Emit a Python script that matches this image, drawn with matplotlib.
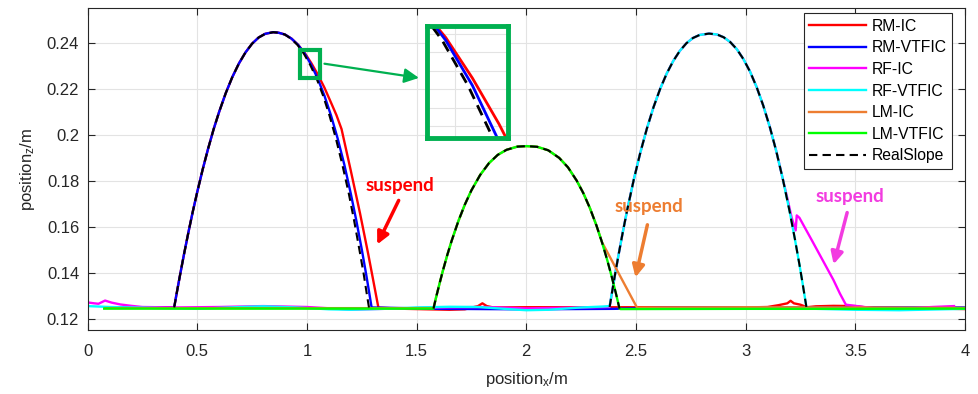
import matplotlib.pyplot as plt
from matplotlib.patches import Rectangle

plt.rcParams['font.family'] = ['Liberation Sans', 'DejaVu Sans']
plt.rcParams['mathtext.default'] = 'regular'

# ---- data (x, z in metres) ----
# arc 1 (right middle leg): shared rising branch
arc1_up_x = [0.395, 0.405, 0.42, 0.44, 0.46, 0.48, 0.50, 0.525, 0.55, 0.575, 0.60, 0.63, 0.66,
             0.69, 0.72, 0.75, 0.78, 0.81, 0.846]
arc1_up_z = [0.1250, 0.1304, 0.1382, 0.1482, 0.1577, 0.1667, 0.1751, 0.1850, 0.1941, 0.2025, 0.2100,
             0.2181, 0.2251, 0.2310, 0.2358, 0.2396, 0.2423, 0.2439, 0.2446]
# falling branch: RM-VTFIC and RealSlope share z, differ slightly in x
arc1_down_z = [0.2444, 0.2436, 0.2418, 0.2391, 0.2353, 0.2304, 0.2243, 0.2170, 0.2084, 0.1985,
               0.1873, 0.1745, 0.1629, 0.1503, 0.1395, 0.1309, 0.1250]
rm_vtfic_down_x = [0.87, 0.90, 0.93, 0.96, 0.99, 1.02, 1.05, 1.08, 1.11, 1.14,
                   1.17, 1.20, 1.225, 1.25, 1.27, 1.285, 1.295]
real1_down_x = [0.869, 0.899, 0.928, 0.957, 0.986, 1.015, 1.045, 1.074, 1.103, 1.132,
                1.161, 1.191, 1.215, 1.239, 1.259, 1.273, 1.283]
rm_ic_down_x = [0.87, 0.90, 0.93, 0.96, 0.99, 1.02, 1.05, 1.08, 1.11, 1.135, 1.158,
                1.20, 1.242, 1.28, 1.30, 1.326]
rm_ic_down_z = [0.2444, 0.2436, 0.2418, 0.2391, 0.2356, 0.2312, 0.2262, 0.2205, 0.2140, 0.2085, 0.2025,
                0.1845, 0.1660, 0.1480, 0.1380, 0.1249]

# arc 2 (left middle leg)
arc2_x = [1.577, 1.59, 1.605, 1.62, 1.64, 1.66, 1.69, 1.72, 1.75, 1.79, 1.83, 1.87, 1.91, 1.96, 2.003,
          2.05, 2.10, 2.15, 2.19, 2.23, 2.26, 2.29, 2.32, 2.345, 2.37, 2.39, 2.41, 2.425]
arc2_z = [0.1245, 0.1298, 0.1355, 0.1410, 0.1478, 0.1540, 0.1624, 0.1697, 0.1759, 0.1826, 0.1877, 0.1913,
          0.1935, 0.1949, 0.1951,
          0.1948, 0.1933, 0.1900, 0.1859, 0.1801, 0.1747, 0.1682, 0.1606, 0.1534, 0.1453, 0.1382, 0.1306, 0.1245]
lm_ic_tail_x = [2.39, 2.45, 2.505]
lm_ic_tail_z = [0.1454, 0.1347, 0.1249]

# arc 3 (right front leg)
arc3_x = [2.380, 2.39, 2.405, 2.42, 2.44, 2.46, 2.49, 2.52, 2.55, 2.58, 2.61, 2.64, 2.67, 2.70, 2.73,
          2.76, 2.79, 2.833,
          2.87, 2.90, 2.93, 2.96, 2.99, 3.02, 3.05, 3.08, 3.11, 3.14, 3.17, 3.20, 3.225, 3.245, 3.26, 3.277]
arc3_z = [0.1252, 0.1310, 0.1395, 0.1475, 0.1577, 0.1673, 0.1805, 0.1923, 0.2028, 0.2120, 0.2199, 0.2266,
          0.2321, 0.2365, 0.2398, 0.2421, 0.2434, 0.2440,
          0.2436, 0.2424, 0.2403, 0.2372, 0.2329, 0.2275, 0.2208, 0.2128, 0.2035, 0.1928, 0.1806, 0.1670,
          0.1545, 0.1438, 0.1353, 0.1252]
rf_ic_tail_x = [3.19, 3.21, 3.228, 3.233, 3.245, 3.30, 3.36, 3.40, 3.43, 3.457]
rf_ic_tail_z = [0.1725, 0.1640, 0.1585, 0.1650, 0.1640, 0.1545, 0.1440, 0.1370, 0.1310, 0.1262]

# stance (ground) segments
rm_pre_x = [0.08, 0.25, 0.395]
rm_pre_z = [0.1250, 0.1250, 0.1250]
rm_ic_post_x = [1.326, 1.45, 1.55, 1.65, 1.72, 1.78, 1.80, 1.82, 1.85, 2.0, 2.5, 3.0, 3.1, 3.15,
                3.19, 3.205, 3.22, 3.25, 3.28, 3.32, 3.4, 3.5, 3.55, 3.8, 4.0]
rm_ic_post_z = [0.1249, 0.1244, 0.1242, 0.1240, 0.1242, 0.1256, 0.1268, 0.1256, 0.1250, 0.1251, 0.1251,
                0.1250, 0.1252, 0.1260, 0.1268, 0.1279, 0.1268, 0.1262, 0.1251, 0.1255, 0.1257, 0.1256,
                0.1250, 0.1247, 0.1243]
rm_vtfic_post_x = [1.295, 1.4, 1.6, 1.8, 2.0, 2.2, 2.4, 2.6, 3.0, 3.5, 4.0]
rm_vtfic_post_z = [0.1250, 0.1248, 0.1244, 0.1243, 0.1242, 0.1243, 0.1244, 0.1248, 0.1250, 0.1250, 0.1250]

rf_ic_pre_x = [0.0, 0.03, 0.05, 0.08, 0.11, 0.15, 0.20, 0.25, 0.4, 0.6, 0.8, 1.0, 1.2, 1.4, 1.6, 1.8,
               2.0, 2.2, 2.38]
rf_ic_pre_z = [0.1272, 0.1268, 0.1266, 0.1280, 0.1271, 0.1263, 0.1257, 0.1252, 0.1250, 0.1252, 0.1256,
               0.1252, 0.1241, 0.1245, 0.1250, 0.1252, 0.1246, 0.1249, 0.1252]
rf_ic_post_x = [3.457, 3.6, 3.7, 3.85, 3.95]
rf_ic_post_z = [0.1254, 0.1245, 0.1243, 0.1252, 0.1256]

rf_vtfic_pre_x = [0.0, 0.1, 0.3, 0.5, 0.7, 0.8, 0.95, 1.1, 1.2, 1.35, 1.5, 1.65, 1.78, 1.9, 2.0, 2.1,
                  2.25, 2.35, 2.38]
rf_vtfic_pre_z = [0.1256, 0.1252, 0.1248, 0.1244, 0.1252, 0.1255, 0.1250, 0.1242, 0.1240, 0.1244, 0.1250,
                  0.1253, 0.1252, 0.1244, 0.1238, 0.1240, 0.1250, 0.1254, 0.1256]
rf_vtfic_post_x = [3.28, 3.5, 3.7, 3.9, 4.0]
rf_vtfic_post_z = [0.1245, 0.1240, 0.1238, 0.1242, 0.1244]

lm_ic_pre_x = [0.08, 0.8, 1.577]
lm_ic_pre_z = [0.1247, 0.1247, 0.1247]
lm_ic_post_x = [2.505, 3.0, 3.5, 4.0]
lm_ic_post_z = [0.1250, 0.1251, 0.1250, 0.1248]
lm_vtfic_pre_x = [0.076, 0.8, 1.577]
lm_vtfic_pre_z = [0.1245, 0.1245, 0.1245]
lm_vtfic_post_x = [2.43, 3.0, 3.5, 4.0]
lm_vtfic_post_z = [0.1243, 0.1244, 0.1244, 0.1245]

labels = ['RM-IC', 'RM-VTFIC', 'RF-IC', 'RF-VTFIC', 'LM-IC', 'LM-VTFIC', 'RealSlope']
colors = ['#ff0000', '#0000ff', '#ff00ff', '#00ffff', '#ed7d31', '#00ff00', 'black']

# ---- assemble series ----
rm_ic_x = rm_pre_x + arc1_up_x[1:] + rm_ic_down_x + rm_ic_post_x[1:]
rm_ic_z = rm_pre_z + arc1_up_z[1:] + rm_ic_down_z + rm_ic_post_z[1:]
rm_vt_x = rm_pre_x + arc1_up_x[1:] + rm_vtfic_down_x + rm_vtfic_post_x[1:]
rm_vt_z = rm_pre_z + arc1_up_z[1:] + arc1_down_z + rm_vtfic_post_z[1:]
i3 = arc3_x.index(3.17) + 1
rf_ic_x = rf_ic_pre_x + arc3_x[1:i3] + rf_ic_tail_x + rf_ic_post_x[1:]
rf_ic_z = rf_ic_pre_z + arc3_z[1:i3] + rf_ic_tail_z + rf_ic_post_z[1:]
rf_vt_x = rf_vtfic_pre_x + arc3_x[1:] + rf_vtfic_post_x
rf_vt_z = rf_vtfic_pre_z + arc3_z[1:] + rf_vtfic_post_z
i2 = arc2_x.index(2.345) + 1
lm_ic_x = lm_ic_pre_x + arc2_x[1:i2] + lm_ic_tail_x + lm_ic_post_x[1:]
lm_ic_z = lm_ic_pre_z + arc2_z[1:i2] + lm_ic_tail_z + lm_ic_post_z[1:]
lm_vt_x = lm_vtfic_pre_x + arc2_x[1:] + lm_vtfic_post_x
lm_vt_z = lm_vtfic_pre_z + arc2_z[1:] + lm_vtfic_post_z
real_arcs = [
    (arc1_up_x + real1_down_x, arc1_up_z + arc1_down_z),
    (arc2_x, arc2_z),
    (arc3_x, arc3_z),
]

series = [(rm_ic_x, rm_ic_z), (rm_vt_x, rm_vt_z), (rf_ic_x, rf_ic_z), (rf_vt_x, rf_vt_z),
          (lm_ic_x, lm_ic_z), (lm_vt_x, lm_vt_z)]

fig = plt.figure(figsize=(9.79, 3.94), dpi=100)
ax = fig.add_axes([0.0894, 0.1624, 0.8963, 0.8166])

for (xs, zs), lab, c in zip(series, labels[:6], colors[:6]):
    ax.plot(xs, zs, color=c, lw=1.7, label=lab)
for k, (xs, zs) in enumerate(real_arcs):
    ax.plot(xs, zs, color='black', lw=1.5, ls=(0, (4, 2.5)),
            label='RealSlope' if k == 0 else None)

ax.set_xlim(0, 4)
ax.set_ylim(0.1152, 0.255)
ax.set_xticks([0, 0.5, 1, 1.5, 2, 2.5, 3, 3.5, 4])
ax.set_xticklabels(['0', '0.5', '1', '1.5', '2', '2.5', '3', '3.5', '4'])
ax.set_yticks([0.12, 0.14, 0.16, 0.18, 0.2, 0.22, 0.24])
ax.set_yticklabels(['0.12', '0.14', '0.16', '0.18', '0.2', '0.22', '0.24'])
ax.tick_params(direction='in', top=True, right=True, length=5, width=0.8,
               labelsize=12, colors='#262626')
ax.tick_params(axis='x', pad=10)
ax.tick_params(axis='y', pad=6)
ax.grid(True, color='#e3e3e3', lw=0.8)
ax.set_axisbelow(True)
for s in ax.spines.values():
    s.set_color('#262626')
    s.set_linewidth(0.8)
ax.set_xlabel('position$_x$/m', fontsize=12, color='#262626', labelpad=8)
ax.set_ylabel('position$_z$/m', fontsize=12, color='#262626', labelpad=7)

leg = ax.legend(loc='upper right', bbox_to_anchor=(0.9849, 0.9845), borderaxespad=0,
                fontsize=11.3, handlelength=3.6, handletextpad=0.35, labelspacing=0.42,
                borderpad=0.35, fancybox=False, framealpha=1, edgecolor='#262626')
leg.get_frame().set_linewidth(0.8)

# suspend annotations
ann_font = dict(family=['Lato', 'DejaVu Sans'], weight='bold', fontsize=13.5, ha='center', va='center')
ax.text(1.424, 0.1778, 'suspend', color='#ff0000', **ann_font)
ax.annotate('', xy=(1.315, 0.1513), xytext=(1.424, 0.1726),
            arrowprops=dict(arrowstyle='-|>', color='#ff0000', lw=2.5, mutation_scale=18))
ax.text(2.559, 0.1687, 'suspend', color='#ed7d31', **ann_font)
ax.annotate('', xy=(2.495, 0.1369), xytext=(2.555, 0.1621),
            arrowprops=dict(arrowstyle='-|>', color='#ed7d31', lw=2.5, mutation_scale=18))
ax.text(3.476, 0.1730, 'suspend', color='#f23ce0', **ann_font)
ax.annotate('', xy=(3.398, 0.1426), xytext=(3.466, 0.1674),
            arrowprops=dict(arrowstyle='-|>', color='#f23ce0', lw=2.5, mutation_scale=18))

# zoom box + inset
zx0, zx1, zz0, zz1 = 0.969, 1.060, 0.2247, 0.2369
ax.add_patch(Rectangle((zx0, zz0), zx1 - zx0, zz1 - zz0, fill=False,
                       ec='#00b050', lw=3, zorder=10))
ax.annotate('', xy=(421.7, 394 - 78.3), xytext=(321.7, 394 - 63.3),
            xycoords='figure pixels', textcoords='figure pixels', annotation_clip=False,
            arrowprops=dict(arrowstyle='-|>', color='#00b050', lw=1.6, mutation_scale=22))

axin = fig.add_axes([427 / 979, 1 - 138 / 394, 81 / 979, 112.5 / 394])
axin.plot(rm_ic_x, rm_ic_z, color='#ff0000', lw=2)
axin.plot(rm_vt_x, rm_vt_z, color='#0000ff', lw=2)
axin.plot(real_arcs[0][0], real_arcs[0][1], color='black', lw=2, ls=(0, (4, 2.5)))
axin.set_xlim(zx0, zx1)
axin.set_ylim(zz0, zz1)
axin.set_xticks([1.0])
axin.set_yticks([0.226, 0.228, 0.230, 0.232, 0.234, 0.236])
axin.tick_params(length=0, labelbottom=False, labelleft=False)
axin.grid(True, color='#e3e3e3', lw=0.8)
for s in axin.spines.values():
    s.set_color('#00b050')
    s.set_linewidth(3.5)

fig.savefig('out.png', dpi=100)
